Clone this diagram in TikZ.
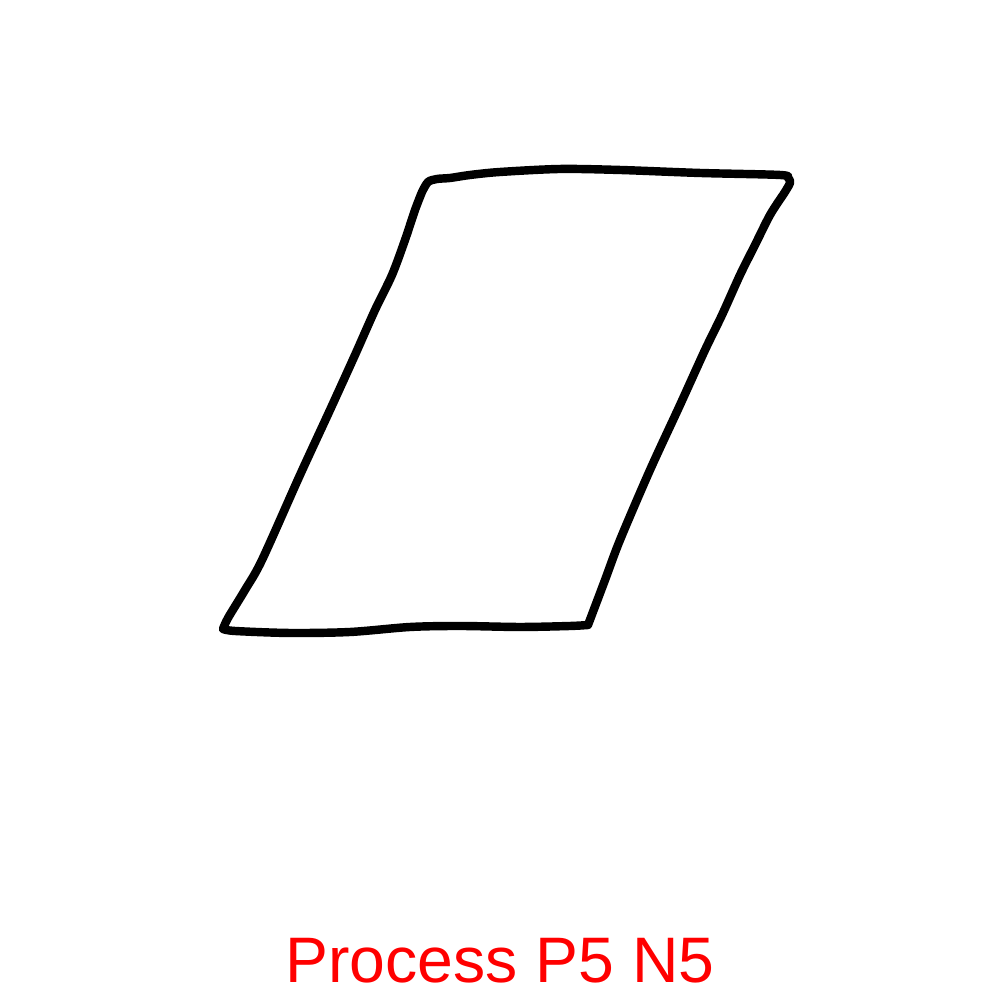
\documentclass[tikz,border=0pt]{standalone}
\usepackage{fontspec}
\setmainfont{Liberation Sans}
\usepackage{tikz}

\tikzset{sketch/.style={black, line width=2.4pt, line join=round, line cap=round}}

\begin{document}
\begin{tikzpicture}
    \useasboundingbox (0,0) rectangle (10,10);

    % Parallelogram
    \draw[sketch] plot[smooth, tension=0.5] coordinates {(4.22,8.08) (4.28,8.18) (4.37,8.21) (4.50,8.22) (4.70,8.25) (5.00,8.28) (5.60,8.31) (6.20,8.30) (7.00,8.27) (7.80,8.25) (7.88,8.22) (7.90,8.17) (7.83,8.05)}
        -- plot[smooth, tension=0.5] coordinates {(7.83,8.05) (7.70,7.85) (7.55,7.55) (7.40,7.25) (7.22,6.85) (7.05,6.50) (6.80,5.95) (6.50,5.30) (6.20,4.60) (6.05,4.20) (5.88,3.75)}
        -- plot[smooth, tension=0.5] coordinates {(5.88,3.75) (5.70,3.74) (5.20,3.73) (4.60,3.74) (4.10,3.73) (3.50,3.68) (2.90,3.67) (2.35,3.69) (2.23,3.71)}
        -- plot[smooth, tension=0.5] coordinates {(2.23,3.71) (2.28,3.82) (2.45,4.10) (2.62,4.40) (3.00,5.25) (3.30,5.90) (3.55,6.45) (3.75,6.90) (3.92,7.25) (4.05,7.60) (4.15,7.90) (4.22,8.08)};

    % Caption
    \node[anchor=base, text=red, font=\fontsize{18.3}{22}\selectfont] (caption) at (5,0.18) {Process P5 N5};
\end{tikzpicture}
\end{document}
